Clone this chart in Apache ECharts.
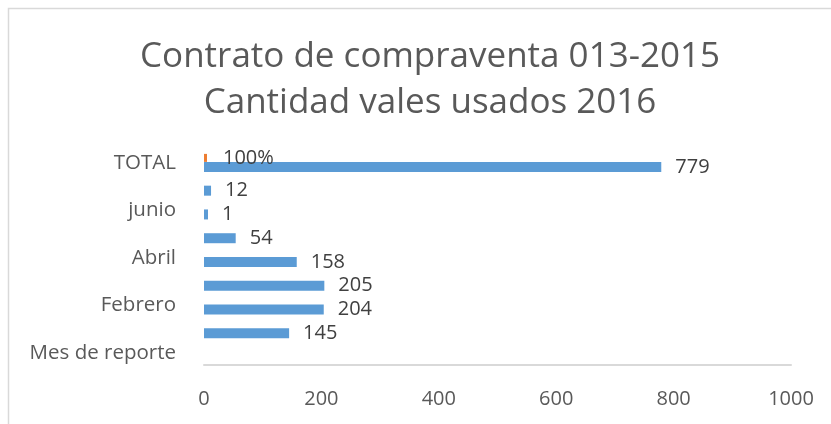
<!DOCTYPE html>
<html>
<head>
<meta charset="utf-8">
<script src="https://cdn.jsdelivr.net/npm/echarts@6/dist/echarts.min.js"></script>
<style>
html, body { margin: 0; padding: 0; background: #fff; }
#main { width: 831px; height: 424px; }
</style>
</head>
<body>
<div id="main"></div>
<script>
var meses = ['Mes de reporte', 'Enero', 'Febrero', 'Marzo', 'Abril', 'Mayo', 'junio', 'julio', 'TOTAL'];
var vales = [null, 145, 204, 205, 158, 54, 1, 12, 779];
var porcentaje = [null, null, null, null, null, null, null, null, 1];
var ejeX = [0, 200, 400, 600, 800, 1000];

var chart = echarts.init(document.getElementById('main'));
var fuente = 'Open Sans';
var option = {
    backgroundColor: '#fff',
    animation: false,
    title: {
        text: 'Contrato de compraventa 013-2015\nCantidad vales usados 2016',
        left: 425,
        textAlign: 'center',
        top: 29,
        textStyle: {
            color: '#595959',
            fontFamily: fuente,
            fontWeight: 'normal',
            fontSize: 35,
            lineHeight: 46
        }
    },
    graphic: [{
        type: 'rect',
        shape: { x: 8.5, y: 8.5, width: 900, height: 500 },
        style: { fill: 'none', stroke: '#d9d9d9', lineWidth: 1.5 },
        silent: true
    }],
    grid: { left: 204, right: 40, top: 151, bottom: 59 },
    xAxis: {
        type: 'value',
        min: ejeX[0],
        max: ejeX[ejeX.length - 1],
        interval: 200,
        axisLine: { show: true, lineStyle: { color: '#d9d9d9', width: 2 } },
        axisTick: { show: false },
        splitLine: { show: false },
        axisLabel: {
            color: '#595959', fontFamily: fuente, fontSize: 20, margin: 24,
            formatter: function (v) { return String(v); }
        }
    },
    yAxis: {
        type: 'category',
        data: meses,
        axisLine: { show: false },
        axisTick: { show: false },
        axisLabel: { interval: 1, color: '#595959', fontFamily: fuente, fontSize: 20.5, margin: 28 }
    },
    series: [{
        name: 'Porcentaje',
        type: 'bar',
        data: porcentaje,
        barWidth: 8,
        barGap: '0%',
        barMinHeight: 3,
        itemStyle: { color: '#ed7d31' },
        label: {
            show: true,
            position: 'right',
            distance: 16,
            color: '#404040',
            fontFamily: fuente,
            fontSize: 20,
            formatter: function (p) { return Math.round(p.value * 100) + '%'; }
        }
    }, {
        name: 'Cantidad',
        type: 'bar',
        data: vales,
        barWidth: 10,
        barGap: '0%',
        barMinHeight: 4,
        itemStyle: { color: '#5b9bd5' },
        label: {
            show: true,
            position: 'right',
            distance: 14,
            color: '#404040',
            fontFamily: fuente,
            fontSize: 20
        }
    }]
};
chart.setOption(option);
</script>
</body>
</html>
